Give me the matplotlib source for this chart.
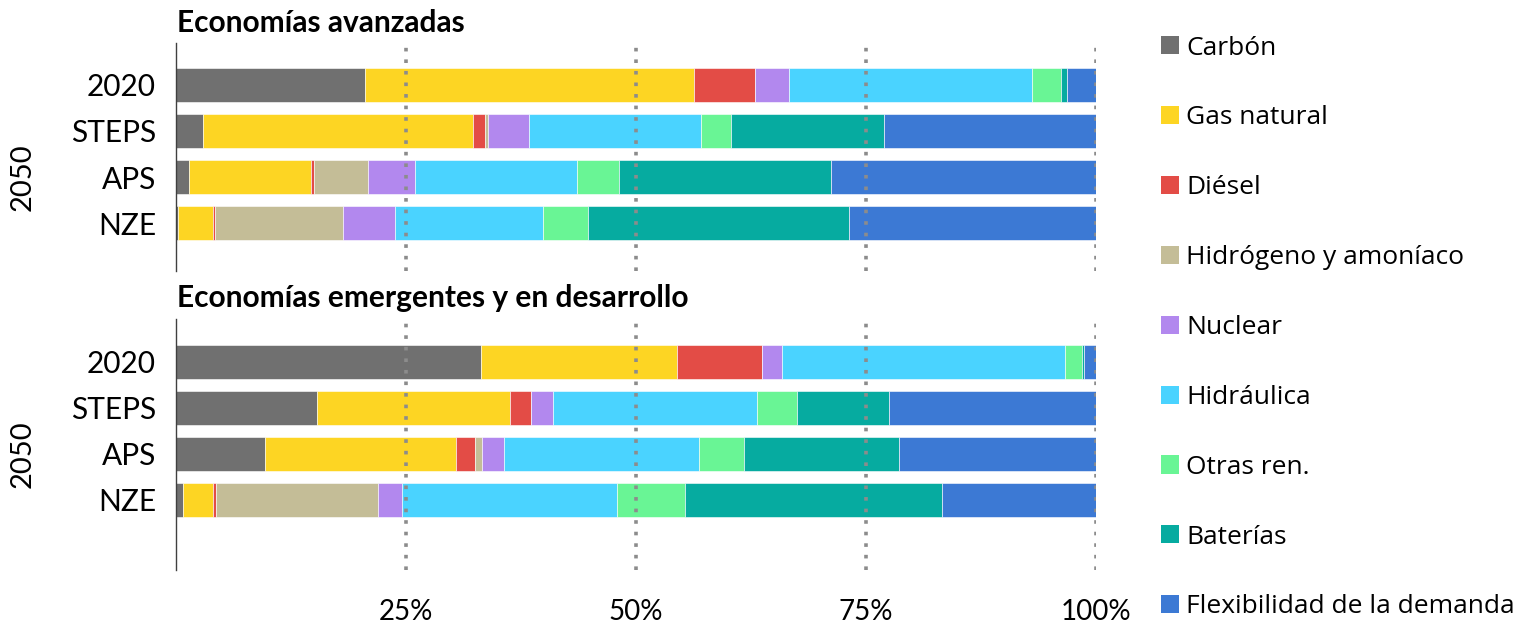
import matplotlib
matplotlib.use("Agg")
import matplotlib.pyplot as plt
from matplotlib.patches import Patch
import numpy as np

# --- data (shares in %) ---------------------------------------------------

scenarios = ["2020", "STEPS", "APS", "NZE"]
sources = ["Carbón", "Gas natural", "Diésel", "Hidrógeno y amoníaco", "Nuclear",
           "Hidráulica", "Otras ren.", "Baterías", "Flexibilidad de la demanda"]
colors = ["#707070", "#FDD523", "#E34C46", "#C4BD97", "#B288EE",
          "#4AD3FF", "#69F595", "#06ABA0", "#3C79D4"]

# rows = scenarios, columns = sources
advanced = [
    [20.6, 35.7, 6.7, 0.0, 3.6, 26.5, 3.1, 0.7, 3.1],
    [3.0, 29.3, 1.3, 0.3, 4.5, 18.7, 3.2, 16.7, 23.0],
    [1.5, 13.2, 0.4, 5.8, 5.1, 17.6, 4.6, 23.0, 28.8],
    [0.3, 3.8, 0.15, 14.0, 5.6, 16.1, 4.9, 28.3, 26.85],
]
emerging = [
    [33.2, 21.3, 9.25, 0.0, 2.1, 30.75, 1.9, 0.2, 1.3],
    [15.4, 20.9, 2.3, 0.0, 2.4, 22.2, 4.35, 9.95, 22.5],
    [9.7, 20.75, 2.1, 0.75, 2.4, 21.2, 4.9, 16.8, 21.4],
    [0.8, 3.3, 0.3, 17.6, 2.6, 23.4, 7.4, 27.9, 16.7],
]
xticks = [25, 50, 75, 100]
xticklabels = ["25%", "50%", "75%", "100%"]

W, H = 1526, 626
fig = plt.figure(figsize=(W / 100, H / 100), dpi=100)


def px_axes(x0, y0, x1, y1):
    return fig.add_axes([x0 / W, 1 - y1 / H, (x1 - x0) / W, (y1 - y0) / H])


def draw_panel(ax, data, title, ylim, title_y, show_x):
    vals = np.array(data, dtype=float)
    y = np.arange(len(scenarios))
    left = np.zeros(len(scenarios))
    for j, src in enumerate(sources):
        ax.barh(y, vals[:, j], left=left, height=0.74, color=colors[j],
                edgecolor="white", linewidth=0.4, zorder=2)
        left += vals[:, j]
    ax.set_xlim(0, 100)
    ax.set_ylim(*ylim)
    ax.set_yticks(y)
    ax.set_yticklabels(scenarios, family="Lato", fontsize=21.5)
    ax.tick_params(axis="y", length=0, pad=14)
    ax.set_xticks(xticks)
    if show_x:
        ax.set_xticklabels(xticklabels, family="Lato", fontsize=20)
        ax.tick_params(axis="x", length=0, pad=21)
    else:
        ax.set_xticklabels([])
        ax.tick_params(axis="x", length=0)
    ax.grid(axis="x", color="#8c8c8c", linestyle=(0, (1, 2.2)), linewidth=2.6, zorder=3)
    ax.set_axisbelow(False)
    for s in ("top", "right", "bottom"):
        ax.spines[s].set_visible(False)
    ax.spines["left"].set_color("#404040")
    ax.spines["left"].set_linewidth(1.0)
    ax.text(0.002, title_y, title, transform=ax.transAxes, family="Lato",
            fontweight="bold", fontsize=21.5, va="center", ha="left")
    ax.text(-0.166, 1 - (2.0 - ylim[1]) / (ylim[0] - ylim[1]), "2050",
            transform=ax.transAxes, family="Lato", fontsize=21, rotation=90,
            va="center", ha="center")


ax1 = px_axes(175.5, 43, 1096, 271)
draw_panel(ax1, advanced, "Economías avanzadas", (4.04, -0.91), 1.088, False)
ax2 = px_axes(175.5, 319, 1096, 570)
draw_panel(ax2, emerging, "Economías emergentes y en desarrollo", (4.52, -0.93), 1.084, True)

handles = [Patch(facecolor=c, edgecolor="none") for c in colors]
fig.legend(handles, sources, loc="upper left", bbox_to_anchor=(1150 / W, 1 - 25 / H),
           frameon=False, prop={"family": "Open Sans", "size": 19},
           handlelength=0.68, handleheight=0.68, handletextpad=0.3,
           labelspacing=1.7, borderaxespad=0)

fig.savefig("out.png", dpi=100)
